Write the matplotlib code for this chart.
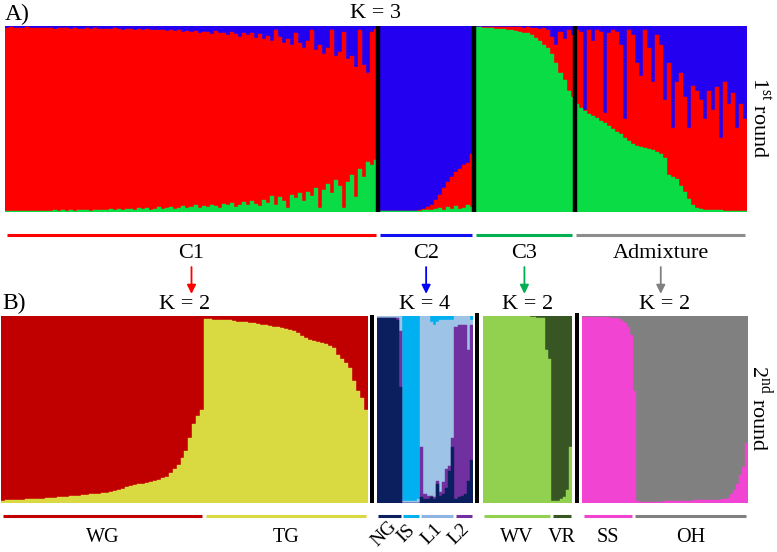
import matplotlib
matplotlib.use("Agg")
import matplotlib.pyplot as plt
import numpy as np
from matplotlib import transforms
from matplotlib.patches import Rectangle

plt.rcParams['font.family'] = ['Liberation Serif', 'DejaVu Serif']
plt.rcParams['mathtext.fontset'] = 'custom'
plt.rcParams['mathtext.rm'] = 'Liberation Serif'

# ---------------- data ----------------
# Panel A: first round, K = 3. Per individual: green (bottom), red (middle), blue (top)
A_groups = ["C1", "C2", "C3", "Admixture"]
C1_green = [0.005, 0.006, 0.005, 0.007, 0.005, 0.006, 0.008, 0.006, 0.005, 0.007,
            0.008, 0.006, 0.01, 0.007, 0.009, 0.008, 0.012, 0.007, 0.01, 0.009,
            0.011, 0.008, 0.013, 0.01, 0.012, 0.009, 0.014, 0.011, 0.016, 0.012,
            0.014, 0.018, 0.012, 0.02, 0.015, 0.022, 0.013, 0.018, 0.025, 0.016,
            0.02, 0.028, 0.018, 0.024, 0.03, 0.02, 0.026, 0.035, 0.022, 0.03,
            0.025, 0.04, 0.03, 0.02, 0.045, 0.035, 0.05, 0.028, 0.04, 0.055,
            0.035, 0.06, 0.045, 0.03, 0.065, 0.05, 0.085, 0.04, 0.08, 0.06,
            0.02, 0.09, 0.075, 0.1, 0.06, 0.11, 0.085, 0.13, 0.02, 0.12,
            0.15, 0.1, 0.17, 0.14, 0.02, 0.16, 0.2, 0.08, 0.23, 0.19,
            0.27, 0.25, 0.28]
C1_blue = [0.01, 0.008, 0.01, 0.012, 0.01, 0.008, 0.011, 0.01, 0.012, 0.01,
           0.012, 0.01, 0.014, 0.011, 0.013, 0.01, 0.015, 0.012, 0.014, 0.016,
           0.013, 0.015, 0.012, 0.017, 0.014, 0.016, 0.018, 0.013, 0.017, 0.02,
           0.015, 0.018, 0.022, 0.016, 0.02, 0.018, 0.024, 0.02, 0.022, 0.019,
           0.025, 0.022, 0.028, 0.02, 0.03, 0.025, 0.032, 0.027, 0.035, 0.03,
           0.03, 0.045, 0.028, 0.04, 0.035, 0.05, 0.03, 0.045, 0.06, 0.035,
           0.05, 0.04, 0.065, 0.045, 0.07, 0.055, 0.08, 0.02, 0.06, 0.09,
           0.07, 0.1, 0.04, 0.09, 0.12, 0.08, 0.02, 0.13, 0.1, 0.15,
           0.12, 0.02, 0.16, 0.14, 0.03, 0.18, 0.16, 0.22, 0.02, 0.21,
           0.25, 0.03, 0.015]
C2_green = [0.004, 0.004, 0.005, 0.004, 0.005, 0.004, 0.005, 0.005, 0.006, 0.005,
            0.008, 0.01, 0.012, 0.01, 0.015, 0.02, 0.012, 0.025, 0.015, 0.03,
            0.018, 0.02, 0.035, 0.025]
C2_blue = [0.992, 0.992, 0.992, 0.992, 0.992, 0.992, 0.992, 0.992, 0.992, 0.992,
           0.99, 0.985, 0.975, 0.96, 0.935, 0.91, 0.87, 0.84, 0.81, 0.785,
           0.77, 0.75, 0.735, 0.69]
C3_green = [0.995, 0.992, 0.99, 0.99, 0.988, 0.985, 0.985, 0.983, 0.98, 0.978,
            0.975, 0.97, 0.965, 0.96, 0.95, 0.935, 0.92, 0.9, 0.88, 0.85,
            0.8, 0.75, 0.71, 0.65, 0.62]
C3_blue = [0.003, 0.003, 0.004, 0.004, 0.005, 0.005, 0.006, 0.006, 0.006, 0.007,
           0.008, 0.008, 0.01, 0.008, 0.012, 0.01, 0.015, 0.012, 0.02, 0.06,
           0.1, 0.03, 0.07, 0.02, 0.05]
AD_green = [0.58, 0.56, 0.545, 0.525, 0.515, 0.505, 0.49, 0.48, 0.46, 0.445,
            0.43, 0.42, 0.40, 0.38, 0.365, 0.355, 0.35, 0.345, 0.34, 0.335,
            0.325, 0.31, 0.29, 0.2, 0.19, 0.175, 0.14, 0.11, 0.07, 0.035,
            0.02, 0.015, 0.013, 0.012, 0.011, 0.01, 0.009, 0.008, 0.008, 0.007,
            0.006, 0.006, 0.005]
AD_blue = [0.02, 0.03, 0.45, 0.02, 0.08, 0.02, 0.03, 0.47, 0.04, 0.02,
           0.03, 0.1, 0.5, 0.02, 0.05, 0.2, 0.27, 0.02, 0.12, 0.3,
           0.05, 0.1, 0.4, 0.2, 0.55, 0.3, 0.25, 0.38, 0.55, 0.32,
           0.35, 0.4, 0.5, 0.35, 0.45, 0.33, 0.6, 0.3, 0.42, 0.36,
           0.55, 0.42, 0.5]

# Panel B: second round
# C1 (K = 2): yellow share (bottom), dark red on top
B1_sub = ["WG", "TG"]
WG_yellow = [0.013, 0.014, 0.015, 0.016, 0.017, 0.018, 0.019, 0.02, 0.021, 0.022,
             0.024, 0.026, 0.027, 0.029, 0.031, 0.033, 0.034, 0.036, 0.038, 0.04,
             0.042, 0.044, 0.046, 0.048, 0.05, 0.053, 0.056, 0.06, 0.065, 0.07,
             0.075, 0.083, 0.09, 0.095, 0.1, 0.103, 0.107, 0.112, 0.12, 0.125,
             0.133, 0.14, 0.16, 0.18, 0.205, 0.24, 0.28, 0.345, 0.425, 0.465, 0.5]
TG_yellow = [0.982, 0.982, 0.981, 0.98, 0.98, 0.979, 0.977, 0.973, 0.97, 0.968,
             0.966, 0.963, 0.96, 0.957, 0.953, 0.95, 0.947, 0.943, 0.94, 0.935,
             0.93, 0.925, 0.92, 0.91, 0.895, 0.88, 0.87, 0.865, 0.86, 0.855,
             0.85, 0.84, 0.83, 0.79, 0.77, 0.75, 0.72, 0.65, 0.6, 0.56, 0.5]

# C2 (K = 4): navy (bottom), purple, light blue (remainder), cyan (top)
B2_sub = ["NG", "IS", "L1", "L2"]
B2_sizes = [8, 6, 11, 6]
K4_navy = [0.99, 0.99, 0.99, 0.99, 0.99, 0.99, 0.98, 0.62,
           0, 0, 0, 0, 0, 0,
           0.03, 0.02, 0.02, 0.03, 0.02, 0.1, 0.04, 0.05, 0.08, 0.17, 0.3,
           0.02, 0.03, 0.04, 0.05, 0.12, 0.23]
K4_purple = [0, 0, 0, 0, 0, 0, 0.01, 0.3,
             0, 0, 0, 0, 0, 0,
             0.27, 0.03, 0.02, 0.01, 0.01, 0.02, 0.02, 0.06, 0.1, 0.03, 0.05,
             0.92, 0.92, 0.91, 0.9, 0.7, 0.72]
K4_cyan = [0, 0, 0, 0, 0, 0, 0, 0,
           0.99, 0.99, 0.99, 0.99, 0.99, 0.98,
           0, 0, 0, 0.03, 0.05, 0.03, 0.02, 0.02, 0.02, 0.02, 0.02,
           0, 0, 0, 0, 0, 0.02]

# C3 (K = 2): light green share (bottom), dark green on top
B3_sub = ["WV", "VR"]
WV_lgreen = [1, 1, 1, 1, 1, 1, 1, 1, 1, 1, 1, 1, 1, 1, 1, 1,
             0.995, 0.995, 0.99, 0.99, 0.99, 0.82, 0.77]
VR_lgreen = [0.01, 0.01, 0.01, 0.02, 0.03, 0.07, 0.3]

# Admixture (K = 2): pink share (bottom), grey on top
B4_sub = ["SS", "OH"]
SS_pink = [0.995, 0.995, 0.995, 0.995, 0.995, 0.993, 0.993, 0.993, 0.992, 0.99,
           0.99, 0.99, 0.985, 0.975, 0.965, 0.94, 0.9]
OH_pink = [0.6, 0.01, 0.005, 0.005, 0.006, 0.006, 0.007, 0.007, 0.008, 0.008, 0.009,
           0.009, 0.01, 0.01, 0.011, 0.011, 0.012, 0.012, 0.013, 0.013, 0.014,
           0.014, 0.015, 0.015, 0.016, 0.016, 0.017, 0.018, 0.018, 0.019, 0.02,
           0.025, 0.05, 0.07, 0.1, 0.15, 0.19, 0.32]

# ---------------- styles ----------------
RED, BLUE, GREEN = '#FF0000', '#2400F0', '#0ADC46'
DRED, YEL = '#C00000', '#D9D941'
NAVY, PURP, LBLU, CYAN = '#0B1F5E', '#7030A0', '#9DC3E6', '#00B0F0'
LGRN, DGRN = '#92D050', '#375623'
PINK, GREY = '#F244D2', '#808080'

W, H = 777, 552
fig = plt.figure(figsize=(W / 100, H / 100), dpi=100)


def rect(x0, y0, x1, y1):
    return [x0 / W, 1 - y1 / H, (x1 - x0) / W, (y1 - y0) / H]


def stacked(ax, layers, colors):
    layers = [np.asarray(l, float) for l in layers]
    n = len(layers[0])
    x = np.arange(n)
    cum = np.cumsum(layers, axis=0)
    # draw from top layer down, each from 0 to its cumulative height
    for k in range(len(layers) - 1, -1, -1):
        ax.bar(x, cum[k], width=1.0, bottom=0, align='edge', color=colors[k],
               edgecolor=colors[k], linewidth=0.3)
    ax.set_xlim(0, n)
    ax.set_ylim(0, 1)
    ax.set_axis_off()


FS = 16

# ---------------- panel A ----------------
axA = fig.add_axes(rect(5, 26, 747, 212))
A_green = C1_green + C2_green + C3_green + AD_green
A_blue = C1_blue + C2_blue + C3_blue + AD_blue
A_red = [1 - g - b for g, b in zip(A_green, A_blue)]
stacked(axA, [A_green, A_red, A_blue], [GREEN, RED, BLUE])
sizesA = [len(C1_green), len(C2_green), len(C3_green), len(AD_green)]
edgesA = np.cumsum([0] + sizesA)
for e in edgesA[1:-1]:
    axA.axvline(e, color='black', lw=3.2)

trA = transforms.blended_transform_factory(axA.transData, axA.transAxes)
ulA = [RED, '#1010F0', '#00B050', '#8C8C8C']
arrA = ['#FF0000', '#0000FF', '#00B050', '#808080']
for k, g in enumerate(A_groups):
    s, e = edgesA[k], edgesA[k + 1]
    axA.plot([s + 0.4, e - 0.6], [-0.122, -0.122], transform=trA, color=ulA[k],
             lw=2.2, clip_on=False, solid_capstyle='butt')
    cx = (s + e) / 2
    axA.text(cx, -0.225, g, transform=trA, ha='center', va='center', fontsize=FS)
    axA.annotate('', xy=(cx, -0.44), xytext=(cx, -0.296), xycoords=trA,
                 textcoords=trA,
                 arrowprops=dict(arrowstyle='-|>', color=arrA[k], lw=1.3,
                                 mutation_scale=13, shrinkA=0, shrinkB=0))
axA.text(0.5, 1.065, 'K = 3', transform=axA.transAxes, ha='center', va='center',
         fontsize=FS)
fig.text(5 / W, 1 - 14 / H, 'A)', ha='left', va='center', fontsize=17)
fig.text(760 / W, 1 - 118 / H, r'1$^{\mathrm{st}}$ round', rotation=270,
         ha='center', va='center', fontsize=FS)

# ---------------- panel B ----------------
fig.text(2 / W, 1 - 303 / H, 'B)', ha='left', va='center', fontsize=17)
fig.text(761 / W, 1 - 408 / H, r'2$^{\mathrm{nd}}$ round', rotation=270,
         ha='center', va='center', fontsize=FS)

for (x0, y0, x1, y1) in [(370, 315, 374, 503), (475, 313, 479, 503), (575, 313, 579, 503)]:
    fig.patches.append(Rectangle((x0 / W, 1 - y1 / H), (x1 - x0) / W, (y1 - y0) / H,
                                 transform=fig.transFigure, facecolor='black',
                                 edgecolor='none'))

UL_Y, LAB_Y = -0.07, -0.182


def underline_labels(ax, names, sizes, colors, rot=0, dx=0.0, dy=0.0, pad=0.5,
                     fs=14.5):
    tr = transforms.blended_transform_factory(ax.transData, ax.transAxes)
    edges = np.cumsum([0] + list(sizes))
    for k, nm in enumerate(names):
        s, e = edges[k], edges[k + 1]
        ax.plot([s + pad, e - pad], [UL_Y, UL_Y], transform=tr, color=colors[k],
                lw=2.2, clip_on=False, solid_capstyle='butt')
        off = transforms.offset_copy(tr, fig=fig, x=dx, y=dy, units='dots')
        ax.text((s + e) / 2, LAB_Y, nm, transform=off, ha='center', va='center',
                fontsize=fs, rotation=rot, rotation_mode='anchor')


# C1
axB1 = fig.add_axes(rect(1, 316, 368, 503))
b1_y = WG_yellow + TG_yellow
stacked(axB1, [b1_y, [1 - v for v in b1_y]], [YEL, DRED])
underline_labels(axB1, B1_sub, [len(WG_yellow), len(TG_yellow)], [DRED, YEL])
axB1.text(0.5, 1.06, 'K = 2', transform=axB1.transAxes, ha='center', va='center',
          fontsize=FS)

# C2
axB2 = fig.add_axes(rect(377, 316, 473, 503))
k4_lb = [1 - a - b - c for a, b, c in zip(K4_navy, K4_purple, K4_cyan)]
stacked(axB2, [K4_navy, K4_purple, k4_lb, K4_cyan], [NAVY, PURP, LBLU, CYAN])
underline_labels(axB2, B2_sub, B2_sizes, [NAVY, CYAN, '#8EB4E3', PURP], rot=45,
                 dx=-5, dy=3, pad=0.35, fs=14)
axB2.text(0.5, 1.06, 'K = 4', transform=axB2.transAxes, ha='center', va='center',
          fontsize=FS)

# C3
axB3 = fig.add_axes(rect(483, 316, 572, 503))
b3_g = WV_lgreen + VR_lgreen
stacked(axB3, [b3_g, [1 - v for v in b3_g]], [LGRN, DGRN])
underline_labels(axB3, B3_sub, [len(WV_lgreen), len(VR_lgreen)], [LGRN, DGRN])
axB3.text(0.5, 1.06, 'K = 2', transform=axB3.transAxes, ha='center', va='center',
          fontsize=FS)

# Admixture
axB4 = fig.add_axes(rect(582, 316, 748, 503))
b4_p = SS_pink + OH_pink
stacked(axB4, [b4_p, [1 - v for v in b4_p]], [PINK, GREY])
underline_labels(axB4, B4_sub, [len(SS_pink), len(OH_pink)], [PINK, GREY])
axB4.text(0.5, 1.06, 'K = 2', transform=axB4.transAxes, ha='center', va='center',
          fontsize=FS)

fig.savefig('out.png', dpi=100)
